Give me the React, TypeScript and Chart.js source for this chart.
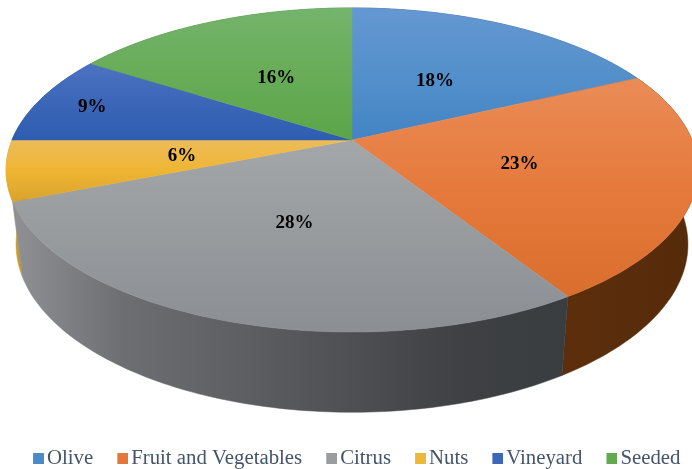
import React, { useEffect, useRef } from "react";
import { Chart, registerables } from "chart.js";

Chart.register(...registerables);

const categories = ["Olive", "Fruit and Vegetables", "Citrus", "Nuts", "Vineyard", "Seeded"];
const shares = [18, 23, 28, 6, 9, 16];
const legendColors = ["#4a8ac6", "#e4763a", "#9a9c9e", "#efb73a", "#3d68b8", "#62a94f"];
const topLight = ["#6498d2", "#ea8c57", "#a4a7a9", "#ecbc5a", "#4c72c2", "#74b46c"];
const topMid = ["#5490cb", "#e67a3c", "#989b9e", "#efb532", "#3c66b8", "#68ac58"];
const topDark = ["#4384c4", "#d96e2e", "#8b8e92", "#d8a22e", "#2f5db0", "#5ca548"];
const sideColors = [
  ["#2a4a70", "#2a4a70"],
  ["#5c2e0c", "#562b0a"],
  ["#8f9194", "#6d6e72", "#5f6064", "#4f5054", "#3f4144", "#393d3f"],
  ["#c99a2c", "#c99a2c"],
  ["#23407c", "#23407c"],
  ["#3d6c30", "#3d6c30"],
];
const labelRadius = [0.49, 0.5, 0.5, 0.5, 0.83, 0.5];

const FONT = "'Liberation Serif'";
const LEGEND_TEXT = "#44546a";

// Perspective of the disc: top face and bottom face of the cylinder.
const top3d = { cx: 352, cy: 140, a: 340, b: 156.5, p: 0.185 };
const bottom3d = { cx: 352, cy: 213, a: 330, b: 162, p: 0.187 };
type Face = typeof top3d;

function project(f: Face, angle: number, r = 1) {
  const u = Math.cos(angle) * r;
  const v = Math.sin(angle) * r;
  const w = 1 - f.p * v;
  return { x: f.cx + (f.a * u) / w, y: f.cy + (f.b * v) / w };
}

function arcPoints(f: Face, start: number, end: number) {
  const n = Math.max(2, Math.ceil((end - start) / (Math.PI / 180)));
  const pts = [];
  for (let i = 0; i <= n; i++) pts.push(project(f, start + ((end - start) * i) / n));
  return pts;
}

function swatch(color: string) {
  const c = document.createElement("canvas");
  c.width = 15;
  c.height = 11;
  const g = c.getContext("2d")!;
  g.fillStyle = color;
  g.fillRect(4, 0, 11, 11);
  return c;
}

const pie3d = {
  id: "pie3d",
  beforeDatasetDraw(chart: any, args: any) {
    const ctx = chart.ctx as CanvasRenderingContext2D;
    const arcs = args.meta.data as any[];
    ctx.save();

    // side walls, back to front
    const order = arcs
      .map((_, i) => i)
      .sort((i, j) => {
        const m = (k: number) => Math.sin((arcs[k].startAngle + arcs[k].endAngle) / 2);
        return m(i) - m(j);
      });
    for (const i of order) {
      const { startAngle, endAngle } = arcs[i];
      const t = arcPoints(top3d, startAngle, endAngle);
      const b = arcPoints(bottom3d, startAngle, endAngle).reverse();
      const xs = [...t, ...b].map((p) => p.x);
      const g = ctx.createLinearGradient(Math.min(...xs), 0, Math.max(...xs), 0);
      sideColors[i].forEach((c, k, all) => g.addColorStop(k / (all.length - 1), c));
      ctx.fillStyle = g;
      ctx.strokeStyle = g;
      ctx.lineWidth = 0.5;
      ctx.beginPath();
      [...t, ...b].forEach((p, k) => (k ? ctx.lineTo(p.x, p.y) : ctx.moveTo(p.x, p.y)));
      ctx.closePath();
      ctx.fill();
      ctx.stroke();
    }

    // top faces
    arcs.forEach((arc, i) => {
      const pts = [project(top3d, 0, 0), ...arcPoints(top3d, arc.startAngle, arc.endAngle)];
      const ys = pts.map((p) => p.y);
      const g = ctx.createLinearGradient(0, Math.min(...ys), 0, Math.max(...ys));
      g.addColorStop(0, topLight[i]);
      g.addColorStop(0.5, topMid[i]);
      g.addColorStop(1, topDark[i]);
      ctx.fillStyle = g;
      ctx.strokeStyle = g;
      ctx.lineWidth = 0.5;
      ctx.beginPath();
      pts.forEach((p, k) => (k ? ctx.lineTo(p.x, p.y) : ctx.moveTo(p.x, p.y)));
      ctx.closePath();
      ctx.fill();
      ctx.stroke();
    });

    // percentage labels
    ctx.fillStyle = "#000000";
    ctx.font = `bold 19px ${FONT}`;
    ctx.textAlign = "center";
    ctx.textBaseline = "middle";
    arcs.forEach((arc, i) => {
      const p = project(top3d, (arc.startAngle + arc.endAngle) / 2, labelRadius[i]);
      ctx.fillText(`${shares[i]}%`, p.x, p.y + 1.5);
    });

    ctx.restore();
    return false;
  },
};

export default function App() {
  const ref = useRef<HTMLCanvasElement>(null);
  useEffect(() => {
    const chart = new Chart(ref.current!, {
      type: "pie",
      data: {
        labels: categories,
        datasets: [{ data: shares, backgroundColor: legendColors, borderWidth: 0 }],
      },
      plugins: [pie3d],
      options: {
        responsive: false,
        animation: false,
        devicePixelRatio: 1,
        layout: { padding: { left: 9, right: -60, top: 0, bottom: -10 } },
        plugins: {
          tooltip: { enabled: false },
          title: { display: false },
          legend: {
            display: true,
            position: "bottom",
            align: "start",
            labels: {
              boxWidth: 0.1,
              boxHeight: 11,
              usePointStyle: true,
              padding: 27.5,
              color: LEGEND_TEXT,
              font: { family: FONT, size: 20.8 },
              generateLabels: () =>
                categories.map((text, i) => ({
                  text,
                  index: i,
                  hidden: false,
                  fontColor: LEGEND_TEXT,
                  fillStyle: legendColors[i],
                  strokeStyle: legendColors[i],
                  lineWidth: 0,
                  pointStyle: swatch(legendColors[i]),
                })),
            },
          },
        },
      },
    } as any);
    return () => chart.destroy();
  }, []);
  return (
    <div style={{ position: "fixed", left: 0, top: 0, width: 692, height: 469, background: "#fff" }}>
      <canvas ref={ref} width={692} height={469} style={{ display: "block" }} />
    </div>
  );
}
